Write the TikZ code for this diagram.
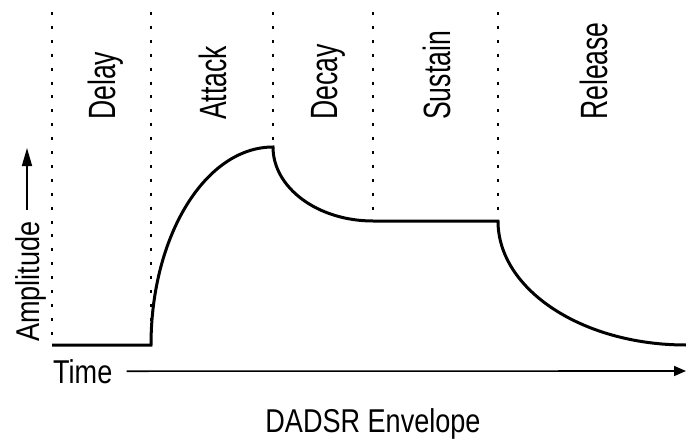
\documentclass[tikz,border=0pt]{standalone}
\usepackage{fontspec}
\setmainfont{Liberation Sans}
\usepackage{graphicx}
\usetikzlibrary{arrows.meta}

\newcommand{\phaselabel}[1]{\scalebox{0.7}[1]{\fontsize{38}{38}\selectfont #1}}
\newcommand{\axislabel}[1]{\scalebox{0.82}[1]{\fontsize{33}{33}\selectfont #1}}

\begin{document}
\begin{tikzpicture}[x=1pt, y=-1pt,
	envelope/.style={line width=3pt},
	divider/.style={line width=1.8pt, dash pattern=on 3pt off 10.9pt},
	axis/.style={line width=1.6pt},
	phase/.style={rotate=90, anchor=base west, inner sep=0pt}]
	\useasboundingbox (0,0) rectangle (686,439);

	% Breakpoints of the envelope
	\coordinate (start) at (52,345);
	\coordinate (onset) at (151,345);
	\coordinate (peak) at (273,147);
	\coordinate (hold) at (373,221);
	\coordinate (off) at (498,221);
	\coordinate (stop) at (686,345);

	% Phase dividers
	\draw[divider] (start |- 0,12) -- (start);
	\draw[divider] (onset |- 0,12) -- (onset);
	\draw[divider] (peak |- 0,12) -- (peak);
	\draw[divider] (hold |- 0,12) -- (hold);
	\draw[divider] (off |- 0,12) -- (off);

	% Envelope (quarter ellipses between the breakpoints)
	\draw[envelope] (start) -- (onset)
		.. controls +(0,-109.4) and +(-67.4,0) .. (peak)
		.. controls +(0,40.9) and +(-55.2,0) .. (hold)
		-- (off)
		.. controls +(0,68.5) and +(-103.8,0) .. (stop);

	% Phase names
	\node[phase] (delay) at (115,120) {\phaselabel{Delay}};
	\node[phase] (attack) at (226,120) {\phaselabel{Attack}};
	\node[phase] (decay) at (337,120) {\phaselabel{Decay}};
	\node[phase] (sustain) at (450,120) {\phaselabel{Sustain}};
	\node[phase] (release) at (607,120) {\phaselabel{Release}};

	% Axes
	\node[phase] (amp) at (39,342) {\axislabel{Amplitude}};
	\node[anchor=base west, inner sep=0pt] (time) at (53,383) {\axislabel{Time}};
	\coordinate (ampfoot) at (27,210);
	\coordinate (amptip) at (27,148);
	\coordinate (timetip) at (686,371);
	\draw[axis, -{Triangle[length=18pt, width=10pt]}] (ampfoot) -- (amptip);
	\draw[axis, -{Triangle[length=12pt, width=10pt]}] ([xshift=14pt]time.east) -- (timetip);

	\node[anchor=base, inner sep=0pt] (title) at (373,432) {\axislabel{DADSR Envelope}};
\end{tikzpicture}
\end{document}
